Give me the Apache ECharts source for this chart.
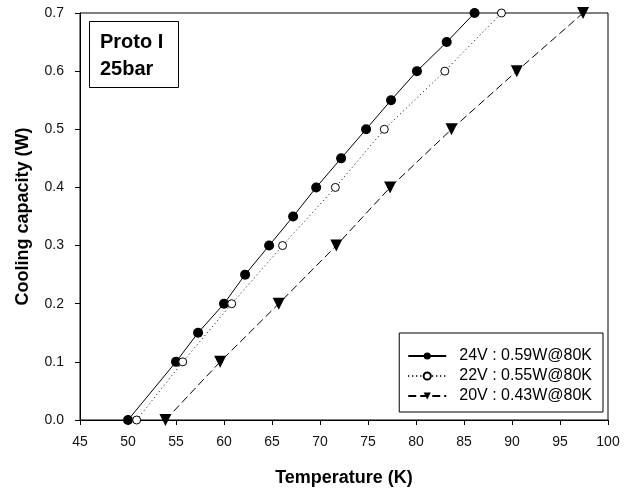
<!DOCTYPE html>
<html><head><meta charset="utf-8">
<script src="https://cdn.jsdelivr.net/npm/echarts@6/dist/echarts.min.js"></script>
<style>html,body{margin:0;padding:0;background:#fff}#c{width:632px;height:492px}</style>
</head><body><div id="c"></div>
<script>
const seriesNames = ['24V : 0.59W@80K', '22V : 0.55W@80K', '20V : 0.43W@80K'];
const s24T = [50.0, 55.0, 57.3, 60.0, 62.2, 64.7, 67.2, 69.6, 72.2, 74.8, 77.4, 80.1, 83.2, 86.1];
const s24Q = [0.0, 0.1, 0.15, 0.2, 0.25, 0.3, 0.35, 0.4, 0.45, 0.5, 0.55, 0.6, 0.65, 0.7];
const s22T = [50.9, 55.7, 60.8, 66.1, 71.6, 76.7, 83.0, 88.9];
const s22Q = [0.0, 0.1, 0.2, 0.3, 0.4, 0.5, 0.6, 0.7];
const s20T = [53.9, 59.6, 65.7, 71.7, 77.3, 83.7, 90.5, 97.4];
const s20Q = [0.0, 0.1, 0.2, 0.3, 0.4, 0.5, 0.6, 0.7];
const xTicks = {min: 45, max: 100, step: 5};
const yTicks = {min: 0, max: 0.7, step: 0.1};

const zip = (a, b) => a.map((v, i) => [v, b[i]]);
const font = '"Liberation Sans", Arial, sans-serif';
const chart = echarts.init(document.getElementById('c'), null, {renderer: 'canvas'});
chart.setOption({
  animation: false,
  backgroundColor: '#fff',
  title: {
    text: 'Proto I\n25bar',
    left: 89, top: 21,
    padding: [8, 15, 5, 11],
    borderColor: '#000', borderWidth: 1,
    textStyle: {fontFamily: font, fontWeight: 'bold', fontSize: 20, color: '#000', lineHeight: 27}
  },
  grid: {left: 80, right: 24, top: 13, bottom: 71, show: true, borderColor: '#000', borderWidth: 1, backgroundColor: 'transparent'},
  legend: {
    orient: 'vertical',
    right: 29, bottom: 80,
    padding: [15, 11, 8, 8],
    itemGap: 4,
    itemWidth: 38, itemHeight: 9,
    borderColor: '#000', borderWidth: 1,
    textStyle: {fontFamily: font, fontSize: 16, color: '#000', padding: [0, 0, 0, 8]},
    data: seriesNames
  },
  xAxis: {
    type: 'value', min: xTicks.min, max: xTicks.max, interval: xTicks.step,
    name: 'Temperature (K)', nameLocation: 'middle', nameGap: 49,
    nameTextStyle: {fontFamily: font, fontWeight: 'bold', fontSize: 18, color: '#000'},
    axisLine: {lineStyle: {color: '#000', width: 1}},
    axisTick: {show: true, length: 5, lineStyle: {color: '#000'}},
    axisLabel: {fontFamily: font, fontSize: 14, color: '#111', margin: 15},
    splitLine: {show: false}
  },
  yAxis: {
    type: 'value', min: yTicks.min, max: yTicks.max, interval: yTicks.step,
    name: 'Cooling capacity (W)', nameLocation: 'middle', nameGap: 48,
    nameTextStyle: {fontFamily: font, fontWeight: 'bold', fontSize: 18, color: '#000'},
    axisLine: {show: true, lineStyle: {color: '#000', width: 1}},
    axisTick: {show: true, length: 5, lineStyle: {color: '#000'}},
    axisLabel: {fontFamily: font, fontSize: 14, color: '#111', margin: 16, formatter: v => v.toFixed(1)},
    splitLine: {show: false}
  },
  series: [
    {
      name: seriesNames[0], type: 'line', data: zip(s24T, s24Q),
      symbol: 'circle', symbolSize: 10,
      itemStyle: {color: '#000'},
      lineStyle: {color: '#000', width: 1, type: 'solid'}
    },
    {
      name: seriesNames[1], type: 'line', data: zip(s22T, s22Q),
      symbol: 'circle', symbolSize: 8,
      itemStyle: {color: '#fff', borderColor: '#000', borderWidth: 1},
      lineStyle: {color: '#000', width: 1, type: [1, 3]}
    },
    {
      name: seriesNames[2], type: 'line', data: zip(s20T, s20Q),
      symbol: 'triangle', symbolSize: 12, symbolRotate: 180,
      itemStyle: {color: '#000'},
      lineStyle: {color: '#000', width: 1, type: [8, 4]}
    }
  ]
});
</script></body></html>
